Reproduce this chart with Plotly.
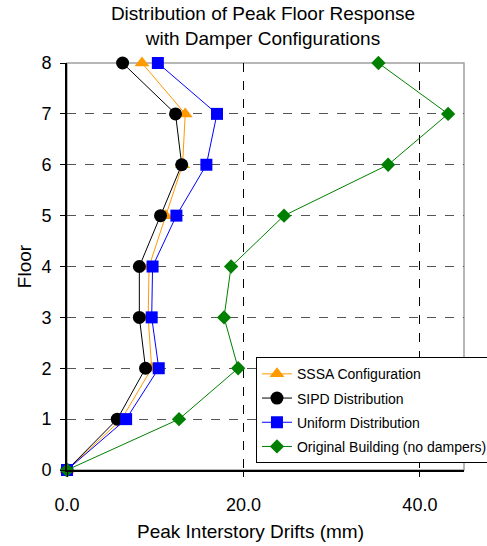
import plotly.graph_objects as go

floors = [0, 1, 2, 3, 4, 5, 6, 7, 8]
sssa = [0.0, 6.2, 9.6, 9.2, 9.3, 11.2, 13.1, 13.4, 8.5]
sipd = [0.0, 5.7, 8.9, 8.2, 8.2, 10.6, 13.0, 12.3, 6.3]
uniform = [0.0, 6.7, 10.4, 9.6, 9.7, 12.4, 15.8, 17.0, 10.3]
original = [0.0, 12.7, 19.4, 17.8, 18.6, 24.6, 36.4, 43.2, 35.3]

series = [
    ("SSSA Configuration", sssa, "#FF9900", "triangle-up", 13),
    ("SIPD Distribution", sipd, "#000000", "circle", 13),
    ("Uniform Distribution", uniform, "#0000FF", "square", 12),
    ("Original Building (no dampers)", original, "#008000", "diamond", 11),
]

fig = go.Figure()
for i, (name, vals, color, sym, size) in enumerate(series):
    fig.add_trace(go.Scatter(
        x=vals, y=floors, name=name, mode="lines+markers",
        legendgroup=f"g{i}",
        line=dict(color=color, width=1),
        marker=dict(symbol=sym, size=size, color=color),
        cliponaxis=False,
    ))

fig.add_shape(type="rect", xref="paper", yref="paper", x0=0, x1=1, y0=0, y1=1,
              line=dict(color="#A0A0A0", width=1.5), layer="below")

fig.add_annotation(text="Peak Interstory Drifts (mm)", xref="paper", yref="paper",
                   x=0.461, y=-0.152, xanchor="center", yanchor="middle",
                   showarrow=False, font=dict(size=19))

fig.update_layout(
    width=487, height=546,
    margin=dict(l=67, r=23, t=63, b=76, autoexpand=False),
    paper_bgcolor="white", plot_bgcolor="white",
    font=dict(family="Liberation Sans, Arial, sans-serif", color="black"),
    title=dict(text="Distribution of Peak Floor Response<br>with Damper Configurations",
               x=0.54, xanchor="center", yref="container", y=0.963, yanchor="top",
               font=dict(size=19)),
    xaxis=dict(range=[0, 45], tickvals=[0, 20, 40], ticktext=["0.0", "20.0", "40.0"],
               showgrid=True, gridcolor="black", griddash="dash", gridwidth=1,
               showline=True, linecolor="black", linewidth=2, zeroline=False,
               ticks="outside", ticklen=5, tickcolor="black", ticklabelstandoff=12,
               tickfont=dict(size=18)),
    yaxis=dict(range=[0, 8], tickvals=floors, showgrid=True, gridcolor="#555555",
               griddash="dash", gridwidth=1, showline=True, linecolor="black", linewidth=2,
               zeroline=False, ticks="outside", ticklen=5, tickcolor="black",
               ticklabelstandoff=5,
               tickfont=dict(size=18),
               title=dict(text="Floor", font=dict(size=19), standoff=5)),
    legend=dict(x=0.476, y=0.277, xanchor="left", yanchor="top",
                bgcolor="white", bordercolor="black", borderwidth=1,
                font=dict(size=14), tracegroupgap=3),
)

fig.write_html("out.html", config={"displayModeBar": False},
               post_script="document.body.style.margin='0';")
